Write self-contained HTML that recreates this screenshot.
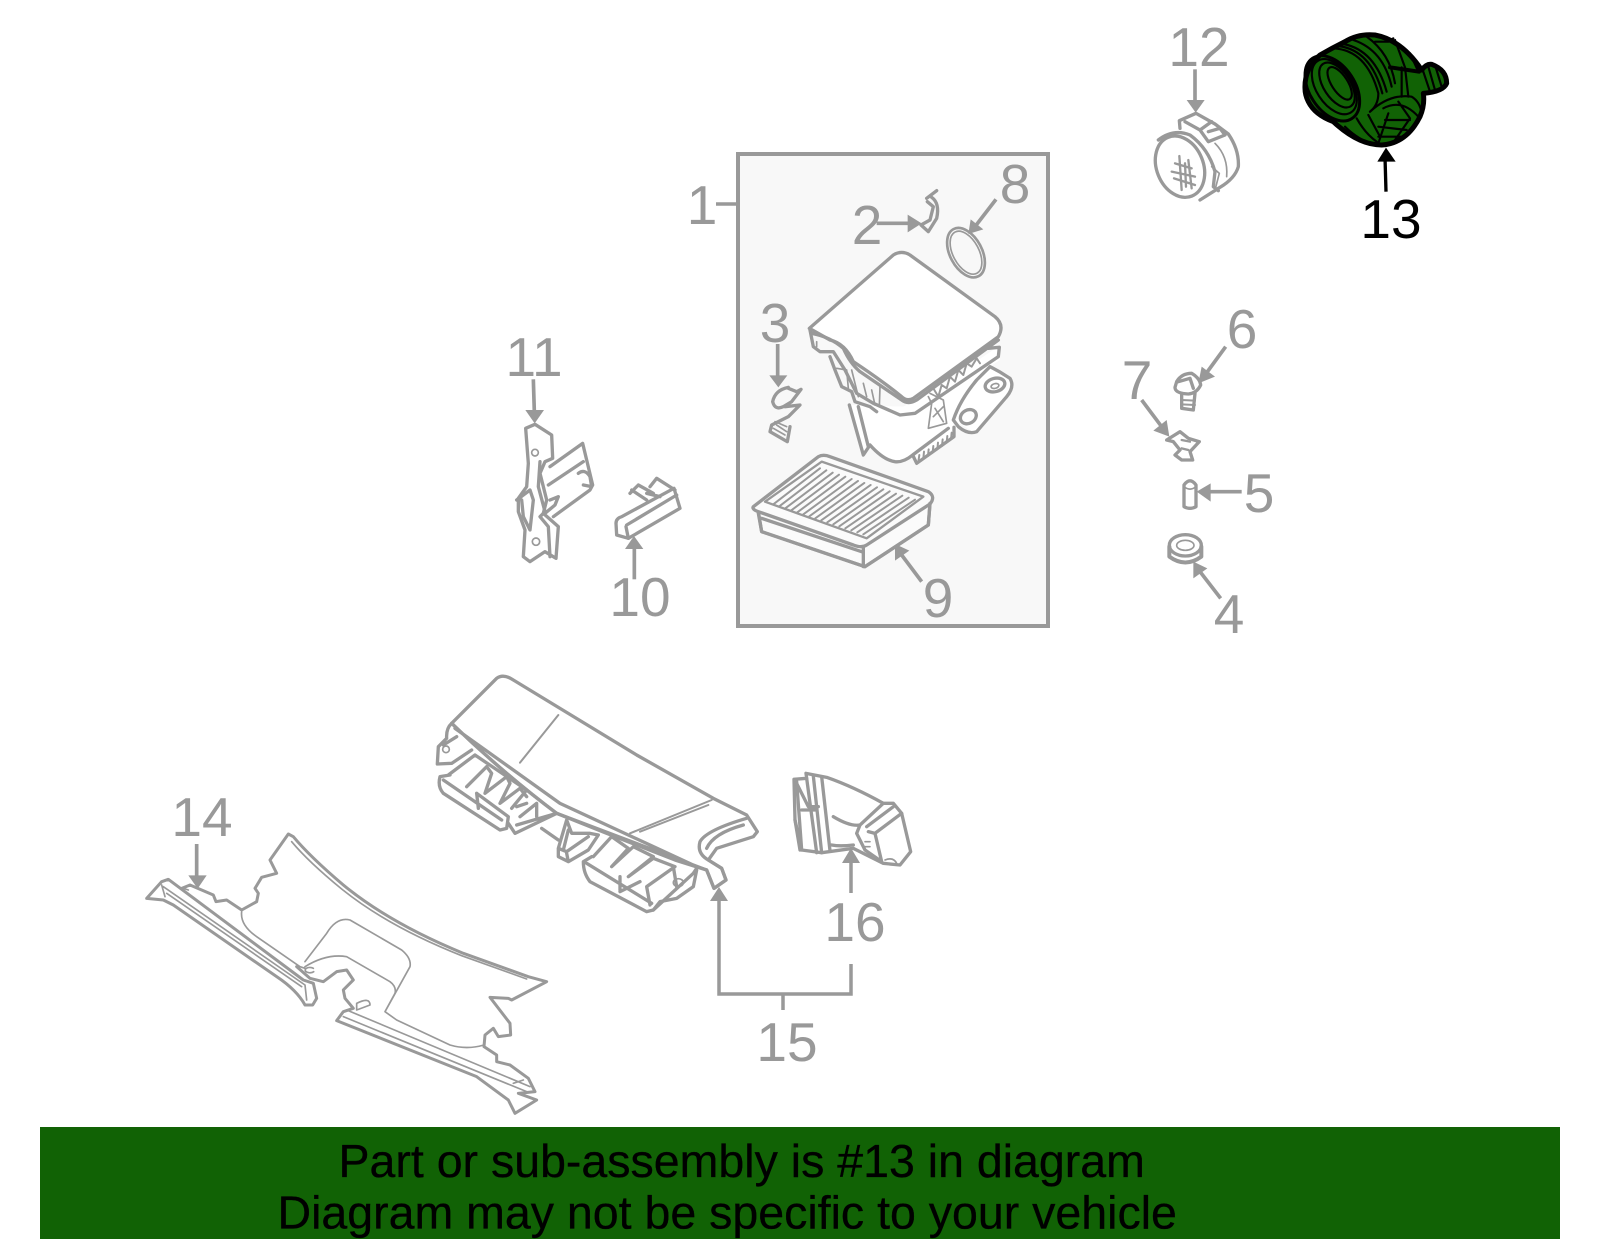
<!DOCTYPE html>
<html><head><meta charset="utf-8"><style>
html,body{margin:0;padding:0;background:#fff}
svg{display:block}
text{font-family:"Liberation Sans",sans-serif}
.n{font-size:55px;fill:#999;text-anchor:middle}
.p{fill:none;stroke:#999;stroke-width:10;stroke-linejoin:round;stroke-linecap:round}
.p .t{stroke-width:5}
.p .w{fill:#fff}
.a{stroke:#999;stroke-width:11;fill:none}
.h{fill:#999;stroke:none}
.k{fill:none;stroke:#000;stroke-width:6.5;stroke-linejoin:round;stroke-linecap:round}
</style></head><body>
<svg width="1600" height="1249" viewBox="0 0 1600 1249" xmlns="http://www.w3.org/2000/svg">
<rect width="1600" height="1249" fill="#fff"/>
<rect x="738" y="154" width="310" height="472" fill="#f8f8f8" stroke="#999" stroke-width="4"/>
<path d="M716 204H738" stroke="#999" stroke-width="3.5"/>

<!-- labels -->
<text class="n" x="702" y="224">1</text>
<text class="n" x="867" y="244">2</text>
<text class="n" x="775" y="342">3</text>
<text class="n" x="1229" y="633">4</text>
<text class="n" x="1259" y="512">5</text>
<text class="n" x="1242" y="348">6</text>
<text class="n" x="1137" y="399">7</text>
<text class="n" x="1015" y="203">8</text>
<text class="n" x="938" y="617">9</text>
<text class="n" x="640" y="616">10</text>
<text class="n" x="534" y="376">11</text>
<text class="n" x="1199" y="66">12</text>
<text class="n" x="1391" y="238" style="fill:#000">13</text>
<text class="n" x="202" y="836">14</text>
<text class="n" x="787" y="1061">15</text>
<text class="n" x="855" y="941">16</text>

<!-- 12 -->
<g transform="translate(1100,0) scale(.33333)">
 <path class="a" d="M285 208V310"/><path class="h" d="M260 300H314L287 338Z"/>
 <g class="p">
  <path d="M240 385L238 362L288 340L345 372L385 402Q418 450 415 500Q405 535 360 562L300 600"/>
  <ellipse cx="240" cy="500" rx="70" ry="95" transform="rotate(-22 240 500)"/>
  <path d="M175 420Q220 385 270 405Q325 445 345 515L340 560L355 572"/>
  <path d="M255 365L300 390L335 365M300 390L325 425L375 405L360 385L325 395"/>
  <path class="t" d="M345 430Q385 470 380 530M335 500L358 520L345 570"/>
  <path class="t" style="stroke-width:7" d="M238 468L245 570M215 515L285 530M222 535L285 555M225 490L275 505M265 480L275 565M255 490L258 560"/>
 </g>
 <path d="M858 575L855 470" stroke="#000" stroke-width="10"/><path d="M832 485H887L858 443Z" fill="#000"/>
</g>
<!-- 13 -->
<g transform="translate(1295,30) scale(.33333)">
 <path d="M30 175Q28 115 75 75Q110 55 150 35Q190 10 240 15Q320 30 380 120Q395 100 410 103Q455 120 455 160Q445 185 385 190Q390 225 375 260Q335 340 260 345Q190 345 115 275Q60 255 40 215Q30 195 30 175Z" fill="#116205" stroke="#000" stroke-width="15" stroke-linejoin="round"/>
 <g class="k">
  <ellipse cx="112" cy="175" rx="68" ry="108" transform="rotate(-33 112 175)" style="stroke-width:9"/>
  <ellipse cx="118" cy="170" rx="54" ry="92" transform="rotate(-33 118 170)"/>
  <ellipse cx="126" cy="165" rx="40" ry="76" transform="rotate(-33 126 165)"/>
  <ellipse cx="134" cy="160" rx="24" ry="56" transform="rotate(-33 134 160)"/>
  <path d="M115 55Q215 60 250 190Q250 225 225 245M145 42Q240 60 275 185M175 30Q265 60 290 170M215 20Q285 70 300 160M130 48Q228 60 262 190"/>
  <path d="M285 112L372 125" style="stroke-width:12"/>
  <path d="M320 112V200M300 30L330 112L340 200M240 35H280L295 25M345 70L370 125"/>
  <path d="M225 245Q285 190 350 200Q375 215 380 250M265 235Q320 205 370 260M310 215L345 265L300 330M270 270L345 270M250 290L335 300M280 250L250 340M150 290Q190 330 240 345M185 265Q210 310 245 335M220 255L255 320M250 320L320 320"/>
  <path d="M385 125L405 185M400 110L420 180M420 105L440 170"/>
 </g>
</g>

<!-- 1 box parts -->
<g transform="translate(720,140) scale(.33333)">
 <path class="a" d="M470 250H570"/><path class="h" d="M563 224V277L605 250Z"/>
 <path class="a" d="M828 178L765 260"/><path class="h" d="M745 282L790 268L752 238Z"/>
 <path class="a" d="M173 612V715"/><path class="h" d="M148 706H202L175 742Z"/>
 <path class="a" d="M605 1325L545 1245"/><path class="h" d="M525 1212L525 1262L568 1232Z"/>
 <g class="p">
  <ellipse cx="738" cy="338" rx="48" ry="80" transform="rotate(-28 738 338)" style="stroke-width:8"/>
  <ellipse cx="738" cy="338" rx="39" ry="70" transform="rotate(-28 738 338)" style="stroke-width:5"/>
  <path d="M620 175L650 152M635 172Q660 190 650 235L625 275L603 255L630 240L640 200L622 185"/>
  <path d="M205 742Q165 750 158 785Q165 812 190 800L215 785L243 748L230 755L205 745M195 800L240 795L205 830L155 855L150 875L202 905L210 860"/>
  <path class="t" d="M165 845L200 860M170 855L200 875M160 865L195 885"/>
  <!-- air box lower -->
  <path class="w" d="M388 795L430 945L450 915L500 955L545 965L580 950L590 970L700 890L720 850L765 880L860 780L880 740L860 710L810 680L840 660L835 620L640 750L550 800L388 795Z" style="stroke:none"/>
  <path d="M388 795L430 945L450 915M415 800L445 920M450 915Q490 960 525 965Q550 968 578 945L590 970L702 890V862M578 945L685 865"/>
  <path class="t" d="M598 945L595 965M612 935L610 955M626 928L624 948M640 918L638 938M654 908L652 928M668 898L666 918M682 888L680 908M695 878L693 898" style="stroke-width:6"/>
  <path d="M700 840Q720 780 770 720L810 680Q840 695 870 715Q885 740 860 770L770 875Q745 885 715 860L700 840Z"/>
  <ellipse cx="745" cy="830" rx="25" ry="20" transform="rotate(-30 745 830)"/>
  <ellipse cx="825" cy="735" rx="30" ry="20" transform="rotate(-15 825 735)"/>
  <ellipse cx="825" cy="738" rx="12" ry="7" class="t" transform="rotate(-15 825 738)"/>
  <path d="M330 650L345 690L365 740L395 755L405 785L450 800L470 815M270 570L280 620L300 635L340 635L375 690L410 760L460 790L540 825L585 820L835 650L838 622L805 625"/>
  <path class="t" d="M395 690L415 770M430 730L440 770M455 750L465 795M480 740L478 800M290 605V620M350 685L380 690L385 745M625 770L635 790L625 865L680 850L670 780L630 760M640 830L670 800M645 805L670 845"/>
  <path class="t" style="stroke-width:6" d="M640 745L655 770L665 735L680 745L690 710L705 725L715 690L730 705L740 670L755 680L770 655L780 670"/>
  <path class="w" d="M268 565L520 345Q545 330 570 345L825 530Q855 555 835 590L580 775Q560 785 545 770Q490 725 400 665Q375 610 330 600L268 565Z"/>
  <path d="M275 580Q330 590 370 625Q390 670 420 695L545 780Q565 795 590 780L835 600"/>
  <!-- filter -->
  <path class="w" d="M115 1115L125 1175L435 1280L625 1155L630 1090L300 950Z" style="fill:#fbfbfb"/>
  <path d="M100 1100L295 950Q310 942 330 950L625 1055Q648 1070 630 1092L440 1215Q425 1225 400 1215L115 1115Q95 1108 100 1100Z" class="w" style="fill:#fbfbfb"/>
  <path d="M115 1120L125 1175L435 1280L625 1155L630 1090M430 1222V1280M125 1135L425 1235"/>
  <path class="t" style="stroke-width:7" d="M135 1085L305 965L610 1070L440 1195Z"/>
  <path class="t" d="M160 1093L300 985M178 1099L319 991M196 1105L338 998M214 1111L357 1004M232 1117L376 1010M250 1123L395 1017M268 1129L414 1023M286 1135L433 1029M304 1141L452 1035M322 1147L471 1042M340 1153L490 1048M358 1159L509 1054M376 1165L528 1061M394 1171L547 1067M412 1177L566 1073M430 1183L585 1079" style="stroke-width:6"/>
 </g>
</g>

<!-- 10, 11 -->
<g transform="translate(490,330) scale(.33333)">
 <path class="a" d="M130 148L133 245"/><path class="h" d="M106 240H162L134 280Z"/>
 <path class="a" d="M433 748V650"/><path class="h" d="M405 657H460L432 618Z"/>
 <g class="p">
  <path d="M180 410L278 340L308 465L300 480L190 560M175 465L280 395M265 430Q285 415 300 440L305 470L280 465"/>
  <path class="w" d="M107 295L135 283L185 315L188 385L165 395L150 430L170 510L160 550L205 590L198 685L165 665L120 695L100 680L105 600L85 545L85 505L110 470L115 400Z"/>
  <path d="M150 395L145 470L165 545L150 560L175 590L180 680M80 510L120 480L130 510L120 600L100 560L95 510M180 510L205 500L195 525L165 550"/>
  <circle cx="135" cy="368" r="10" style="stroke-width:5"/><circle cx="138" cy="635" r="11" style="stroke-width:5"/>
  <path d="M378 580L380 615L415 625L570 535L552 475L395 560Q378 565 378 580Z"/>
  <path d="M408 590L415 625M410 585L560 495M425 480L470 510M420 490L445 465L490 490M480 470L500 445L555 480M470 490L510 500"/>
 </g>
</g>

<!-- 4,5,6,7 -->
<g transform="translate(1110,310) scale(.33333)">
 <path class="a" d="M347 110L285 195"/><path class="h" d="M265 220L315 200L275 170Z"/>
 <path class="a" d="M95 270L155 350"/><path class="h" d="M178 380L170 330L130 362Z"/>
 <path class="a" d="M395 545H290"/><path class="h" d="M260 545L302 520V575Z"/>
 <path class="a" d="M332 865L270 785"/><path class="h" d="M250 755L250 805L292 775Z"/>
 <g class="p">
  <path d="M200 215Q215 190 245 190Q270 205 272 225Q260 250 235 252Q195 250 195 232Z"/>
  <path d="M205 215L240 205L250 235M215 255V295L250 300L255 250"/>
  <path class="t" style="stroke-width:6" d="M215 270L255 272M215 283L255 285"/>
  <path d="M170 390L210 365L235 385L268 395L240 425L248 450L215 450L195 435L210 420L190 395Z"/>
  <path class="t" style="stroke-width:7" d="M215 390L240 395M215 415L235 420"/>
  <path d="M222 525Q240 500 258 525V590Q240 600 222 590Z"/><path d="M222 530Q240 545 258 530" class="t"/>
  <ellipse cx="226" cy="706" rx="48" ry="32"/>
  <ellipse cx="226" cy="706" rx="26" ry="15" style="stroke-width:5"/>
  <path d="M178 710V740Q226 775 274 740V710" style="stroke-width:12"/>
 </g>
</g>

<!-- 15, 16 -->
<g transform="translate(420,660) scale(.33333)">
 <g class="p">
  <path class="w" d="M95 190L230 55Q250 40 280 60L650 285L880 415L980 465L1012 515L1000 530L890 565L865 600L905 625L918 660L882 685L860 630L765 600L560 520L410 460Q250 340 95 190Z"/>
  <path d="M95 190Q250 340 410 460L860 630M105 205L420 430L830 620M860 630L882 685L918 660L905 625L865 600Q830 580 840 545Q860 510 980 475M860 565Q880 520 970 495"/>
  <path class="t" style="stroke-width:6" d="M300 308L415 165M630 520L875 420M660 515L865 435"/>
  <path d="M95 190Q78 205 80 235L55 260L52 312L95 310L155 270M70 255L110 230"/>
  <circle cx="78" cy="268" r="10" style="stroke-width:5"/>
  <path d="M90 345L60 350Q52 380 70 400L240 510L260 505L265 470L170 400M70 360L245 480M170 400L175 445M85 345L165 285L320 390L275 445M140 380L200 320L215 340L195 400L260 350L270 370L240 430L300 385L320 410"/>
  <path d="M265 490L285 520L410 460L290 495M300 470L350 430V470M290 440L320 430"/>
  <path d="M365 505L415 540M440 480L455 520L510 520L535 525L505 570L445 605L415 590V565L440 480M415 565L440 575L505 530M430 570L445 510M440 580L445 605"/>
  <path d="M515 590L490 605Q490 640 510 665L680 755L700 750L820 640L830 625M500 610L695 730M600 650V690M600 695L660 665"/>
  <path d="M520 590L575 530L625 565L575 620L640 560L700 590L625 650L700 595L765 620L680 680L690 735M760 620L770 680"/>
  <ellipse cx="775" cy="668" rx="15" ry="12" style="stroke-width:5"/>
  <path d="M700 750L720 725L770 715L820 680L830 630"/>
  <!-- 16 -->
  <path class="w" d="M1122 358L1160 355L1158 340L1220 352Q1300 380 1390 430L1420 430L1445 460L1472 575L1440 615L1390 610L1300 565L1205 578L1145 570L1125 480Z"/>
  <path d="M1130 365L1145 570M1125 480L1140 570M1130 370L1165 440L1195 440M1145 450H1190M1160 355L1190 578M1180 348L1205 578M1205 350L1230 572"/>
  <path d="M1240 470Q1290 500 1320 495L1390 430M1235 555Q1260 560 1300 555M1320 495L1310 520L1335 570L1385 605L1365 520L1445 460M1340 500L1420 440M1345 515L1365 520"/>
  <path class="t" d="M1335 545H1350M1335 560H1350M1395 600Q1420 590 1430 610"/>
 </g>
</g>
<path d="M719 900V994H851V964M851 893V862M783 994V1010" fill="none" stroke="#999" stroke-width="3.5"/>
<path d="M710 901H728L719 887Z M842 863H860L851 848Z" fill="#999"/>

<!-- 14 -->
<g transform="translate(130,790) scale(.33333)">
 <path class="a" d="M200 162V265"/><path class="h" d="M175 256H230L203 296Z"/>
 <g class="p" style="stroke-width:9">
  <path d="M50 325L95 275L115 268L520 570L550 580L560 625L548 645L525 645Q500 600 440 560L130 345L100 330Z"/>
  <path class="t" d="M100 290L525 585L530 630M110 310L515 590M95 285L105 320"/>
  <path d="M155 295L180 285L250 315L258 335L290 330L335 360L380 335L385 310L375 295L395 262L440 250L420 210L475 132L490 140Q540 200 640 285Q780 400 1000 490L1195 560L1250 575L1145 630L1135 625L1080 622L1140 700L1142 735L1105 740L1090 715L1065 735L1062 770L1100 795L1100 815L1140 825L1195 865L1215 905L1165 910L1220 930L1155 970L1135 930L1040 860L620 692L640 665L670 655L645 625L640 600L670 570L650 540L620 545L580 575L540 565L500 530"/>
  <path d="M485 155Q535 215 635 297Q775 410 995 497L1190 567" style="stroke-width:5"/>
  <path class="t" d="M160 295L175 300M335 365Q330 405 380 440L510 530L525 535M525 515L590 430Q620 380 660 390L815 480Q845 505 840 530L765 665L800 690L960 765Q1010 780 1062 765M525 530Q590 490 650 500L780 575Q800 590 795 610L765 665M550 535A14 8 0 1 0 551 545M680 640Q720 620 720 645L680 660Z"/>
  <path class="t" d="M650 660L1200 890M640 680L1190 905M1150 880L1180 870"/>
 </g>
</g>

<rect x="40" y="1127" width="1520" height="112" fill="#116205"/>
<text x="338.5" y="1177" font-size="46.5" fill="#000" stroke="#000" stroke-width=".3">Part or sub-assembly is #13 in diagram</text>
<text x="277.5" y="1228.5" font-size="46.5" fill="#000" stroke="#000" stroke-width=".3">Diagram may not be specific to your vehicle</text>
</svg>
</body></html>
